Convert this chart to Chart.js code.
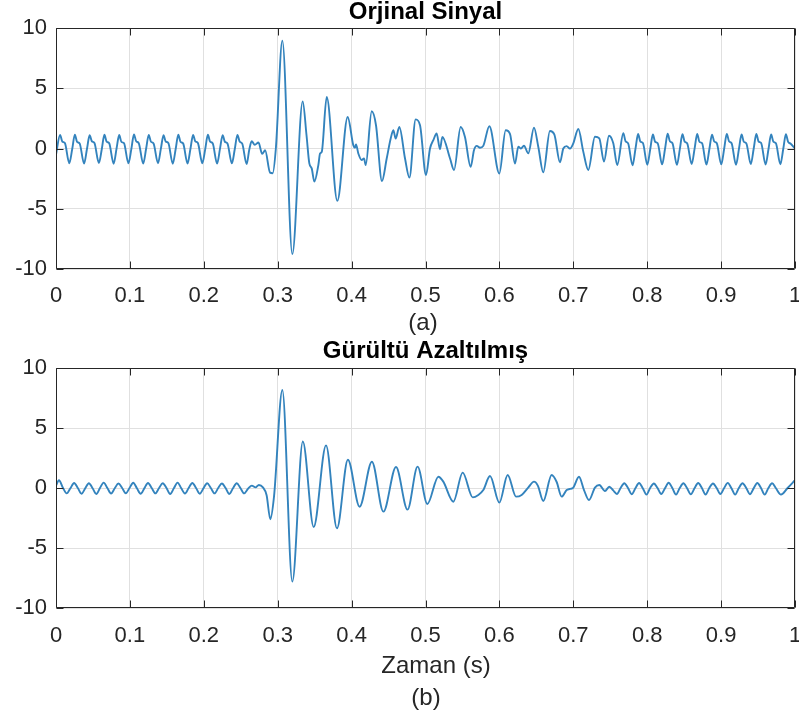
<!DOCTYPE html>
<html>
<head>
<meta charset="utf-8">
<script src="https://cdn.jsdelivr.net/npm/chart.js@4.4.1/dist/chart.umd.min.js"></script>
<style>
  html, body { margin: 0; padding: 0; background: #ffffff; }
  #wrap { position: relative; width: 799px; height: 720px; overflow: hidden; }
  canvas { position: absolute; left: 0; }
  .cap {
    position: absolute; width: 200px; text-align: center;
    font-family: "Liberation Sans", Arial, Helvetica, sans-serif;
    font-size: 24px; color: #262626; line-height: 28px;
  }
</style>
</head>
<body>
<div id="wrap">
  <canvas id="top" width="799" height="335" style="top:0"></canvas>
  <canvas id="bottom" width="799" height="385" style="top:335px"></canvas>
  <div class="cap" style="left:323px; top:308px">(a)</div>
  <div class="cap" style="left:336px; top:651px">Zaman (s)</div>
  <div class="cap" style="left:326px; top:683px">(b)</div>
</div>
<script>
// Tick labels
const xTickLabels = ['0', '0.1', '0.2', '0.3', '0.4', '0.5', '0.6', '0.7', '0.8', '0.9', '1'];
const yTickLabels = ['-10', '-5', '0', '5', '10'];

// Original signal: time (s) and amplitude
const origTime = [
  0.0000,
  0.0055, 0.0085, 0.0120, 0.0180, 0.0220,
  0.0255, 0.0285, 0.0320, 0.0380, 0.0420,
  0.0455, 0.0485, 0.0520, 0.0580, 0.0620,
  0.0655, 0.0685, 0.0720, 0.0780, 0.0820,
  0.0855, 0.0885, 0.0920, 0.0980, 0.1020,
  0.1055, 0.1085, 0.1120, 0.1180, 0.1220,
  0.1255, 0.1285, 0.1320, 0.1380, 0.1420,
  0.1455, 0.1485, 0.1520, 0.1580, 0.1620,
  0.1655, 0.1685, 0.1720, 0.1780, 0.1820,
  0.1855, 0.1885, 0.1920, 0.1980, 0.2020,
  0.2055, 0.2085, 0.2120, 0.2180, 0.2220,
  0.2255, 0.2285, 0.2320, 0.2380, 0.2420,
  0.2455, 0.2485, 0.2520, 0.2580, 0.2615,
  0.2648, 0.2690, 0.2740, 0.2790, 0.2830, 0.2896, 0.2932, 0.2975,
  0.3063, 0.3198, 0.3338, 0.3390, 0.3428, 0.3460, 0.3496, 0.3550, 0.3573, 0.3596,
  0.3663, 0.3807, 0.3947, 0.4023, 0.4046, 0.4060, 0.4091, 0.4136, 0.4168, 0.4191,
  0.4272, 0.4330, 0.4411, 0.4475, 0.4529, 0.4565, 0.4596, 0.4646, 0.4723, 0.4782,
  0.4867, 0.4926, 0.5007, 0.5061, 0.5106, 0.5151, 0.5196, 0.5228, 0.5332, 0.5386,
  0.5476, 0.5534, 0.5611, 0.5656, 0.5693, 0.5737, 0.5782, 0.5864, 0.5999, 0.6085,
  0.6144, 0.6211, 0.6256, 0.6292, 0.6332, 0.6391, 0.6468, 0.6526, 0.6594, 0.6684,
  0.6743, 0.6820, 0.6865, 0.6910, 0.6955, 0.7000, 0.7068, 0.7135, 0.7203, 0.7293,
  0.7352, 0.7415, 0.7483, 0.7541, 0.7595,
  0.7677, 0.7707, 0.7742, 0.7802, 0.7842,
  0.7877, 0.7907, 0.7942, 0.8002, 0.8042,
  0.8077, 0.8107, 0.8142, 0.8202, 0.8242,
  0.8277, 0.8307, 0.8342, 0.8402, 0.8442,
  0.8477, 0.8507, 0.8542, 0.8602, 0.8642,
  0.8677, 0.8707, 0.8742, 0.8802, 0.8842,
  0.8877, 0.8907, 0.8942, 0.9002, 0.9042,
  0.9077, 0.9107, 0.9142, 0.9202, 0.9242,
  0.9277, 0.9307, 0.9342, 0.9402, 0.9442,
  0.9477, 0.9507, 0.9542, 0.9602, 0.9642,
  0.9677, 0.9707, 0.9742, 0.9802, 0.9842,
  0.9877, 0.9907, 0.9942, 1.0000
];
const origValue = [
  -0.50,
  1.12, 0.58, 0.45, -1.22, -0.02,
  1.15, 0.55, 0.42, -1.25, 0.00,
  1.10, 0.60, 0.46, -1.20, -0.04,
  1.14, 0.57, 0.43, -1.26, 0.02,
  1.12, 0.55, 0.45, -1.23, -0.03,
  1.17, 0.60, 0.44, -1.25, 0.00,
  1.13, 0.56, 0.42, -1.22, 0.01,
  1.10, 0.58, 0.46, -1.26, -0.02,
  1.15, 0.55, 0.43, -1.24, 0.00,
  1.12, 0.60, 0.45, -1.22, -0.03,
  1.14, 0.57, 0.44, -1.25, 0.01,
  1.11, 0.56, 0.42, -1.23, -0.02,
  1.13, 0.58, 0.40, -1.30, -0.10,
  0.60, 0.30, 0.50, -0.45, -0.15, -2.00, -2.05, 0.00,
  8.95, -8.76, 3.91, 1.10, -1.24, -1.65, -2.75, -1.38, -0.41, -0.28,
  4.27, -4.35, 2.62, 0.28, 0.06, 0.33, -0.41, -0.96, -0.83, -1.38,
  3.09, 1.93, -2.70, -0.83, 0.83, 1.52, 0.83, 1.79, -0.83, -2.42,
  2.42, 1.93, -2.20, 0.00, 0.69, 1.24, -0.06, 0.96, -0.83, -1.79,
  1.79, 0.96, -1.52, -0.14, 0.22, 0.06, 0.22, 1.85, -2.07, 1.52,
  1.20, -1.25, 0.15, 0.00, 0.23, -0.40, 1.73, 0.15, -1.98, 1.45,
  1.18, -1.15, 0.00, 0.20, 0.00, 0.43, 1.62, -0.26, -1.78, 0.98,
  0.84, -1.09, 1.06, 0.43, -1.37,
  1.26, 0.60, 0.42, -1.40, 0.00,
  1.20, 0.58, 0.45, -1.35, -0.02,
  1.16, 0.56, 0.43, -1.32, 0.00,
  1.22, 0.60, 0.44, -1.36, -0.03,
  1.18, 0.57, 0.42, -1.30, 0.01,
  1.20, 0.55, 0.45, -1.34, -0.02,
  1.15, 0.58, 0.43, -1.32, 0.00,
  1.21, 0.60, 0.44, -1.35, -0.01,
  1.17, 0.56, 0.42, -1.30, 0.02,
  1.20, 0.58, 0.45, -1.33, -0.02,
  1.16, 0.57, 0.43, -1.31, 0.00,
  1.18, 0.55, 0.40, 0.00
];

// Noise-reduced signal: time (s) and amplitude
const filtTime = [
  0.0000,
  0.0040, 0.0095, 0.0145, 0.0195,
  0.0245, 0.0295, 0.0345, 0.0395,
  0.0445, 0.0495, 0.0545, 0.0595,
  0.0645, 0.0695, 0.0745, 0.0795,
  0.0845, 0.0895, 0.0945, 0.0995,
  0.1045, 0.1095, 0.1145, 0.1195,
  0.1245, 0.1295, 0.1345, 0.1395,
  0.1445, 0.1495, 0.1545, 0.1595,
  0.1645, 0.1695, 0.1745, 0.1795,
  0.1845, 0.1895, 0.1945, 0.1995,
  0.2045, 0.2095, 0.2145, 0.2195,
  0.2245, 0.2295, 0.2345, 0.2395,
  0.2445, 0.2495, 0.2545, 0.2600,
  0.2650, 0.2700, 0.2745, 0.2800, 0.2850, 0.2900, 0.2950,
  0.3063, 0.3198, 0.3340, 0.3487, 0.3654, 0.3802, 0.3950, 0.4108, 0.4275, 0.4430,
  0.4601, 0.4757, 0.4893, 0.5025, 0.5174, 0.5241, 0.5377, 0.5503, 0.5639, 0.5715,
  0.5782, 0.5873, 0.5999, 0.6112, 0.6225, 0.6301, 0.6392, 0.6468, 0.6520, 0.6594,
  0.6707, 0.6775, 0.6842, 0.6910, 0.6955, 0.7000, 0.7077, 0.7145, 0.7212, 0.7293,
  0.7352, 0.7429, 0.7487, 0.7540, 0.7590, 0.7640,
  0.7690, 0.7740, 0.7790, 0.7840,
  0.7890, 0.7940, 0.7990, 0.8040,
  0.8090, 0.8140, 0.8190, 0.8240,
  0.8290, 0.8340, 0.8390, 0.8440,
  0.8490, 0.8540, 0.8590, 0.8640,
  0.8690, 0.8740, 0.8790, 0.8840,
  0.8890, 0.8940, 0.8990, 0.9040,
  0.9090, 0.9140, 0.9190, 0.9240,
  0.9290, 0.9340, 0.9390, 0.9440,
  0.9490, 0.9540, 0.9590, 0.9640,
  0.9690, 0.9740, 0.9810, 0.9900, 1.0000
];
const filtValue = [
  0.20,
  0.65, 0.00, -0.45, -0.02,
  0.42, 0.00, -0.48, -0.03,
  0.40, -0.02, -0.50, 0.00,
  0.45, 0.00, -0.46, -0.02,
  0.38, 0.00, -0.44, 0.00,
  0.44, -0.02, -0.48, -0.03,
  0.42, 0.00, -0.45, 0.00,
  0.40, 0.00, -0.50, -0.02,
  0.45, -0.02, -0.46, 0.00,
  0.42, 0.00, -0.48, -0.03,
  0.40, 0.00, -0.45, 0.00,
  0.38, 0.00, -0.50, -0.02,
  0.40, 0.00, -0.45, -0.05,
  0.20, 0.05, 0.25, 0.05, -0.60, -2.60, -0.72,
  8.17, -7.80, 3.88, -3.25, 3.55, -3.36, 2.36, -1.56, 2.19, -1.97,
  1.75, -1.80, 1.78, -1.33, 0.94, 0.53, -1.14, 1.28, -0.78, -0.58,
  -0.17, 1.00, -1.22, 1.08, -0.72, -0.58, 0.05, 0.53, 0.20, -1.08,
  1.08, 0.50, -0.72, -0.17, -0.08, 0.03, 0.94, -0.17, -1.00, 0.03,
  0.25, -0.25, 0.10, -0.20, -0.50, 0.00,
  0.40, 0.00, -0.52, -0.02,
  0.42, -0.02, -0.55, 0.00,
  0.38, 0.00, -0.50, -0.03,
  0.44, 0.00, -0.55, 0.00,
  0.40, -0.02, -0.52, -0.02,
  0.42, 0.00, -0.54, 0.00,
  0.38, 0.00, -0.50, -0.02,
  0.43, -0.02, -0.55, 0.00,
  0.40, 0.00, -0.52, -0.03,
  0.42, 0.00, -0.55, 0.00,
  0.40, 0.00, -0.55, 0.00, 0.65
];

const FONT = '"Liberation Sans", Arial, Helvetica, sans-serif';
const LINE_COLOR = '#3383bd';
const GRID_COLOR = '#e0e0e0';
const AXIS_COLOR = '#262626';

// Closed axes box with inward tick marks on all four sides
const axesBox = {
  id: 'axesBox',
  afterDatasetsDraw(chart) {
    const { ctx, chartArea: a, scales: { x, y } } = chart;
    const len = 7;
    ctx.save();
    ctx.strokeStyle = AXIS_COLOR;
    ctx.lineWidth = 1;
    const L = Math.round(a.left) + 0.5, R = Math.round(a.right) - 0.5;
    const T = Math.round(a.top) + 0.5, B = Math.round(a.bottom) - 0.5;
    ctx.beginPath();
    ctx.rect(L, T, R - L, B - T);
    x.ticks.forEach(t => {
      const px = Math.round(x.getPixelForValue(t.value)) + 0.5;
      ctx.moveTo(px, B); ctx.lineTo(px, B - len);
      ctx.moveTo(px, T); ctx.lineTo(px, T + len);
    });
    y.ticks.forEach(t => {
      const py = Math.round(y.getPixelForValue(t.value)) + 0.5;
      ctx.moveTo(L, py); ctx.lineTo(L + len, py);
      ctx.moveTo(R, py); ctx.lineTo(R - len, py);
    });
    ctx.stroke();
    ctx.restore();
  }
};

function makeChart(id, times, values, cfg) {
  const points = times.map((t, i) => ({ x: t, y: values[i] }));
  return new Chart(document.getElementById(id), {
    type: 'line',
    data: {
      datasets: [{
        data: points,
        borderColor: LINE_COLOR,
        borderWidth: 1.9,
        pointRadius: 0,
        fill: false,
        cubicInterpolationMode: 'monotone'
      }]
    },
    options: {
      responsive: false,
      animation: false,
      devicePixelRatio: 1,
      events: [],
      layout: { padding: { left: 0, right: 4, top: 0, bottom: 0 } },
      plugins: {
        legend: { display: false },
        tooltip: { enabled: false },
        title: {
          display: true,
          fullSize: false,
          text: cfg.title,
          color: '#000000',
          font: { family: FONT, size: 24, weight: 'bold', lineHeight: 1.05 },
          padding: cfg.titlePad
        }
      },
      scales: {
        x: {
          type: 'linear',
          min: 0, max: 1,
          ticks: {
            stepSize: 0.1,
            color: AXIS_COLOR,
            font: { family: FONT, size: 22 },
            padding: cfg.xTickPad,
            maxRotation: 0,
            autoSkip: false,
            callback: (v, i) => xTickLabels[i]
          },
          grid: { color: GRID_COLOR, drawTicks: false },
          border: { display: false },
          afterFit: s => { s.height = cfg.xHeight; s.paddingLeft = 0; s.paddingRight = 0; }
        },
        y: {
          min: -10, max: 10,
          ticks: {
            stepSize: 5,
            color: AXIS_COLOR,
            font: { family: FONT, size: 22 },
            padding: 9,
            callback: (v, i) => yTickLabels[i]
          },
          grid: { color: GRID_COLOR, drawTicks: false },
          border: { display: false },
          afterFit: s => { s.width = 56; }
        }
      }
    },
    plugins: [axesBox]
  });
}

makeChart('top', origTime, origValue, {
  title: 'Orjinal Sinyal',
  titlePad: { top: 0, bottom: 2.8 },
  xTickPad: 14,
  xHeight: 66
});

makeChart('bottom', filtTime, filtValue, {
  title: 'Gürültü Azaltılmış',
  titlePad: { top: 3.4, bottom: 4.4 },
  xTickPad: 15,
  xHeight: 112
});
</script>
</body>
</html>
